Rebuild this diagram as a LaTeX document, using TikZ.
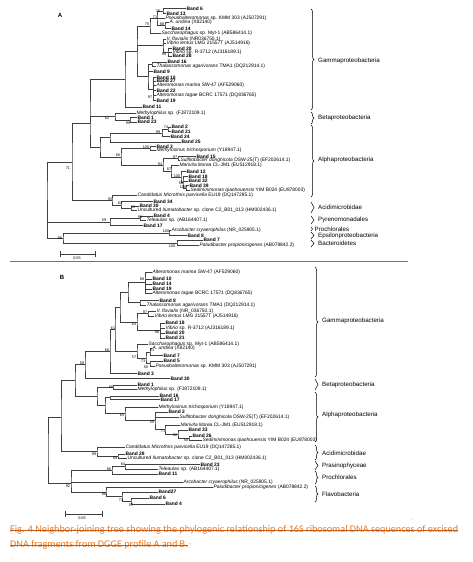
\documentclass[tikz,border=0pt]{standalone}
\usepackage{fontspec}
\setmainfont{Liberation Sans}
\newfontfamily\capfont{Carlito}
\usetikzlibrary{decorations.pathreplacing}
\definecolor{capcolor}{RGB}{232,122,36}
\definecolor{rulecolor}{RGB}{196,92,22}

\begin{document}
\begin{tikzpicture}[x=1pt,y=-1pt,
				branch/.style={draw=black!75, line width=0.45pt},
				leafnode/.style={anchor=west, inner sep=0.4pt, font=\fontsize{4.9}{5}\selectfont},
				bandnode/.style={leafnode, font=\fontsize{4.9}{5}\selectfont\bfseries},
				bootnode/.style={inner sep=0pt, font=\fontsize{3.8}{4}\selectfont},
				cladebrace/.style={decorate, decoration={brace, amplitude=3pt}, line width=0.5pt},
				cladenode/.style={anchor=west, inner sep=0pt, font=\fontsize{6.2}{7}\selectfont},
				panelnode/.style={inner sep=0pt, font=\fontsize{6}{7}\selectfont\bfseries},
				capnode/.style={anchor=west, inner sep=0pt, text=capcolor, font=\capfont\fontsize{10.2}{11}\selectfont},
				strike/.style={draw=rulecolor, line width=0.6pt},
				]
		\useasboundingbox (0,0) rectangle (472,562);

				%Panel A: leaves
				\node[panelnode]	(pA)	at (60,15)		{A};
				\node[bandnode]	(a6)	at (186,8.5)	{Band 6};
				\node[bandnode]	(a13)	at (166,13.5)	{Band 13};
				\node[leafnode]	(aPs)	at (165,18)		{\textit{Pseudoalteromonas} sp. KMM 303 (AJ507291)};
				\node[leafnode]	(aUn)	at (169,22)		{\textit{A. undina} (X82140)};
				\node[bandnode]	(a14)	at (171,28.5)	{Band 14};
				\node[leafnode]	(aSa)	at (161,33.5)	{\textit{Saccharophagus} sp. Myt-1 (AB586414.1)};
				\node[leafnode]	(aVf)	at (166,39)		{\textit{V. fluvialis} (NR036750.1)};
				\node[leafnode]	(aVl)	at (166,43)		{\textit{Vibrio lentus} LMG 21557T (AJ514916)};
				\node[bandnode]	(a20)	at (172,48.5)	{Band 20};
				\node[leafnode]	(aVs)	at (172,52.5)	{\textit{Vibrio} sp. R-3712 (AJ316189.1)};
				\node[bandnode]	(a28)	at (172,56)		{Band 28};
				\node[bandnode]	(a16)	at (167,62)		{Band 16};
				\node[leafnode]	(aTh)	at (156,66)		{\textit{Thalassomonas agarivorans} TMA1 (DQ212914.1)};
				\node[bandnode]	(a9)	at (153,71.5)	{Band 9};
				\node[bandnode]	(a10)	at (156,77.5)	{Band 10};
				\node[bandnode]	(a27)	at (156,81)		{Band 27};
				\node[leafnode]	(aAm)	at (156,85)		{\textit{Alteromonas marina} SW-47 (AF529060)};
				\node[bandnode]	(a22)	at (156,90.5)	{Band 22};
				\node[leafnode]	(aAt)	at (156,95)		{\textit{Alteromonas tagae} BCRC 17571 (DQ836765)};
				\node[bandnode]	(a19)	at (156,100.5)	{Band 19};
				\node[bandnode]	(a11)	at (142,107)	{Band 11};
				\node[leafnode]	(aMe)	at (136,113)	{\textit{Methylophilus} sp. (FJ872109.1)};
				\node[bandnode]	(a1)	at (137,117.5)	{Band 1};
				\node[bandnode]	(a23)	at (137,122)	{Band 23};
				\node[bandnode]	(a2)	at (171,127)	{Band 2};
				\node[bandnode]	(a21)	at (171,131.5)	{Band 21};
				\node[bandnode]	(a24)	at (170,136.5)	{Band 24};
				\node[bandnode]	(a25)	at (181,142)	{Band 25};
				\node[bandnode]	(a3)	at (156,146.5)	{Band 3};
				\node[leafnode]	(aMs)	at (156,150.5)	{\textit{Methylosinus trichosporium} (Y18947.1)};
				\node[bandnode]	(a15)	at (196,156.5)	{Band 15};
				\node[leafnode]	(aSu)	at (180,160.5)	{\textit{Sulfitobacter donghicola} DSW-25(T) (EF202614.1)};
				\node[leafnode]	(aMa)	at (179,165.5)	{\textit{Marivita litorea} CL-JM1 (EU512918.1)};
				\node[bandnode]	(a12)	at (186,171.5)	{Band 12};
				\node[bandnode]	(a18)	at (188,176.5)	{Band 18};
				\node[bandnode]	(a32)	at (188,181)	{Band 32};
				\node[bandnode]	(a39)	at (189,185.5)	{Band 39};
				\node[leafnode]	(aSe)	at (190,190)	{\textit{Sediminimonas qiaohouensis} YIM B024 (EU878003)};
				\node[leafnode]	(aCa)	at (137,195)	{\textit{Candidatus Microthrix parvicella} EU19 (DQ147285.1)};
				\node[bandnode]	(a34)	at (153,201.5)	{Band 34};
				\node[bandnode]	(a30)	at (139,206)	{Band 30};
				\node[leafnode]	(aUc)	at (137,210.5)	{Uncultured \textit{Ilumatobacter} sp. clone C2\_B01\_013 (HM002436.1)};
				\node[bandnode]	(a4)	at (153,216)	{Band 4};
				\node[leafnode]	(aTe)	at (146,220.5)	{\textit{Teleaulax} sp. (AB164407.1)};
				\node[bandnode]	(a17)	at (143,225.5)	{Band 17};
				\node[leafnode]	(aAr)	at (171,230)	{\textit{Arcobacter cryaerophilus} (NR\_025905.1)};
				\node[bandnode]	(a8)	at (187,235.5)	{Band 8};
				\node[bandnode]	(a7)	at (203,240)	{Band 7};
				\node[leafnode]	(aPa)	at (199,245)	{\textit{Paludibacter propionicigenes} (AB078842.2)};

				%Panel A: inner nodes
				\coordinate (n76) at (163,11);
				\coordinate (n88) at (165,25);
				\coordinate (n71) at (157,18);
				\coordinate (n75) at (150,26);
				\coordinate (n90) at (168,52.5);
				\coordinate (nV) at (163,45);
				\coordinate (nTh) at (152,64);
				\coordinate (n97) at (153,89);
				\coordinate (nAlt) at (148,76);
				\coordinate (Gup) at (137,51);
				\coordinate (G0) at (125,79);
				\coordinate (n99b) at (130,120);
				\coordinate (n62) at (115,116);
				\coordinate (n74) at (168,129);
				\coordinate (n99a) at (162,133);
				\coordinate (nB2) at (110,137);
				\coordinate (n100) at (150,148.5);
				\coordinate (n97a) at (178,158.5);
				\coordinate (n100d) at (186,188);
				\coordinate (n58) at (183,182);
				\coordinate (n100c) at (181,177);
				\coordinate (n87) at (171,171);
				\coordinate (n94) at (163,165);
				\coordinate (n66) at (121,157);
				\coordinate (nAl) at (100,147);
				\coordinate (nGB) at (90,123);
				\coordinate (n59a) at (131,208);
				\coordinate (n62a) at (121,205);
				\coordinate (nAc) at (112,200);
				\coordinate (n71r) at (72,162);
				\coordinate (n99p) at (140,218);
				\coordinate (n59p) at (110,222);
				\coordinate (n100a) at (169,233);
				\coordinate (n100b) at (177,243);
				\coordinate (n96) at (63,238);
				\coordinate (rootA) at (47,200);

				%Panel A: branches
				\draw[branch] (a6.west) -| (n76) |- (a13.west);
				\draw[branch] (aUn.west) -| (n88) |- (a14.west);
				\draw[branch] (n76) -| (n71) |- (n88) (n71) |- (aPs.west);
				\draw[branch] (n71) -| (n75) |- (aSa.west);
				\draw[branch] (a20.west) -| (n90) |- (a28.west) (n90) |- (aVs.west);
				\draw[branch] (aVf.west) -| (nV) |- (n90) (nV) |- (aVl.west);
				\draw[branch] (a16.west) -| (nTh) |- (aTh.west);
				\draw[branch] (a10.west) -| (n97) |- (a19.west) (n97) |- (a27.west) (n97) |- (aAm.west) (n97) |- (a22.west) (n97) |- (aAt.west);
				\draw[branch] (nTh) -| (nAlt) |- (n97) (nAlt) |- (a9.west);
				\draw[branch] (n75) -| (Gup) |- (nAlt) (Gup) |- (nV);
				\draw[branch] (Gup) -| (G0) |- (a11.west);
				\draw[branch] (a1.west) -| (n99b) |- (a23.west);
				\draw[branch] (aMe.west) -| (n62) |- (n99b);
				\draw[branch] (a2.west) -| (n74) |- (a21.west);
				\draw[branch] (n74) -| (n99a) |- (a24.west);
				\draw[branch] (n99a) -| (nB2) |- (a25.west);
				\draw[branch] (a3.west) -| (n100) |- (aMs.west);
				\draw[branch] (a15.west) -| (n97a) |- (aSu.west);
				\draw[branch] (a39.west) -| (n100d) |- (aSe.west);
				\draw[branch] (a18.west) -| (n58) |- (n100d) (n58) |- (a32.west);
				\draw[branch] (a12.west) -| (n100c) |- (n58);
				\draw[branch] (aMa.west) -| (n87) |- (n100c);
				\draw[branch] (n97a) -| (n94) |- (n87);
				\draw[branch] (n100) -| (n66) |- (n94);
				\draw[branch] (nB2) -| (nAl) |- (n66);
				\draw[branch] (G0) -| (nGB) |- (nAl) (nGB) |- (n62);
				\draw[branch] (a30.west) -| (n59a) |- (aUc.west);
				\draw[branch] (a34.west) -| (n62a) |- (n59a);
				\draw[branch] (aCa.west) -| (nAc) |- (n62a);
				\draw[branch] (nGB) -| (n71r) |- (nAc);
				\draw[branch] (a4.west) -| (n99p) |- (aTe.west);
				\draw[branch] (n99p) -| (n59p) |- (a17.west);
				\draw[branch] (aAr.west) -| (n100a) |- (a8.west);
				\draw[branch] (a7.west) -| (n100b) |- (aPa.west);
				\draw[branch] (n100a) -| (n96) |- (n100b);
				\draw[branch] (n71r) -| (rootA) |- (n96) (rootA) |- (n59p);

				%Panel A: bootstrap values
				\node[bootnode] (bA1) at (158,11.5) {76};
				\node[bootnode] (bA2) at (155,17) {71};
				\node[bootnode] (bA3) at (162,24) {88};
				\node[bootnode] (bA4) at (147,24) {75};
				\node[bootnode] (bA5) at (164,54) {90};
				\node[bootnode] (bA6) at (150,97) {97};
				\node[bootnode] (bA7) at (107,118) {62};
				\node[bootnode] (bA8) at (128,123) {99};
				\node[bootnode] (bA9) at (166,127) {74};
				\node[bootnode] (bA10) at (158,132) {99};
				\node[bootnode] (bA11) at (146,147) {100};
				\node[bootnode] (bA12) at (118,155) {66};
				\node[bootnode] (bA13) at (175,157) {97};
				\node[bootnode] (bA14) at (160,164) {94};
				\node[bootnode] (bA15) at (169,169) {87};
				\node[bootnode] (bA16) at (177,176) {100};
				\node[bootnode] (bA17) at (181,183) {58};
				\node[bootnode] (bA18) at (183,187) {100};
				\node[bootnode] (bA19) at (110,199) {92};
				\node[bootnode] (bA20) at (120,203) {62};
				\node[bootnode] (bA21) at (133,207) {59};
				\node[bootnode] (bA22) at (68,168) {71};
				\node[bootnode] (bA23) at (104,220) {59};
				\node[bootnode] (bA24) at (140,217) {99};
				\node[bootnode] (bA25) at (166,231) {100};
				\node[bootnode] (bA26) at (60,238) {96};
				\node[bootnode] (bA27) at (172,246) {100};

				%Panel A: scale and groups
				\coordinate (sA1) at (60,254);
				\coordinate (sA2) at (95,254);
				\draw[branch, |-|] (sA1) -- (sA2);
				\node[bootnode] (sAl) at (77,258.5) {0.05};
				\draw[cladebrace] (311,9) -- (311,110);
				\node[cladenode] (gA1) at (318,61) {Gammaproteobacteria};
				\draw[cladebrace] (311,112) -- (311,124);
				\node[cladenode] (gA2) at (318,118) {Betaproteobacteria};
				\draw[cladebrace] (311,125) -- (311,197);
				\node[cladenode] (gA3) at (318,160) {Alphaproteobacteria};
				\draw[cladebrace] (311,202) -- (311,213);
				\node[cladenode] (gA4) at (318,207) {Acidimicrobidae};
				\draw[cladebrace] (311,216) -- (311,224);
				\node[cladenode] (gA5) at (318,220) {Pyrenomonadales};
				\draw[cladebrace, decoration={brace, amplitude=1.5pt}] (311,227) -- (311,231);
				\node[cladenode] (gA6) at (314.5,229) {Prochlorales};
				\draw[cladebrace] (311,232) -- (311,239);
				\node[cladenode] (gA7) at (318,236) {Epsilonproteobacteria};
				\draw[cladebrace] (311,240) -- (311,247);
				\node[cladenode] (gA8) at (318,243.5) {Bacteroidetes};

				\draw[rulecolor, line width=0.8pt] (10,261) -- (408,261);

				%Panel B: leaves
				\node[panelnode]	(pB)	at (62,277)		{B};
				\node[leafnode]	(bAm)	at (152,272)	{\textit{Alteromonas marina} SW-47 (AF529060)};
				\node[bandnode]	(b10)	at (152,279)	{Band 10};
				\node[bandnode]	(b14)	at (152,284)	{Band 14};
				\node[bandnode]	(b19)	at (152,289)	{Band 19};
				\node[leafnode]	(bAt)	at (152,293.5)	{\textit{Alteromonas tagae} BCRC 17571 (DQ836765)};
				\node[bandnode]	(b8)	at (159,300.5)	{Band 8};
				\node[leafnode]	(bTh)	at (146,305)	{\textit{Thalassomonas agarivorans} TMA1 (DQ212914.1)};
				\node[leafnode]	(bVf)	at (156,311)	{\textit{V. fluvialis} (NR\_036750.1)};
				\node[leafnode]	(bVl)	at (154,316)	{\textit{Vibrio lentus} LMG 21557T (AJ514916)};
				\node[bandnode]	(b18)	at (165,323)	{Band 18};
				\node[leafnode]	(bVs)	at (165,328)	{\textit{Vibrio} sp. R-3712 (AJ316189.1)};
				\node[bandnode]	(b20)	at (165,333)	{Band 20};
				\node[bandnode]	(b21)	at (165,338)	{Band 21};
				\node[leafnode]	(bSa)	at (148,344)	{\textit{Saccharophagus} sp. Myt-1 (AB586414.1)};
				\node[leafnode]	(bUn)	at (152,348.5)	{\textit{A. undina} (X82140)};
				\node[bandnode]	(b7)	at (163,355.5)	{Band 7};
				\node[bandnode]	(b5)	at (163,361)	{Band 5};
				\node[leafnode]	(bPs)	at (155,366.5)	{\textit{Pseudoalteromonas} sp. KMM 303 (AJ507291)};
				\node[bandnode]	(b3)	at (137,373.5)	{Band 3};
				\node[bandnode]	(b30)	at (170,378.5)	{Band 30};
				\node[bandnode]	(b1)	at (137,385)	{Band 1};
				\node[leafnode]	(bMe)	at (137,389)	{\textit{Methylophilus} sp. (FJ872109.1)};
				\node[bandnode]	(b16)	at (159,396)	{Band 16};
				\node[bandnode]	(b17)	at (160,399.5)	{Band 17};
				\node[leafnode]	(bMs)	at (158,407)	{\textit{Methylosinus trichosporium} (Y18947.1)};
				\node[bandnode]	(b2)	at (168,412)	{Band 2};
				\node[leafnode]	(bSu)	at (179,417)	{\textit{Sulfitobacter donghicola} DSW-25(T) (EF202614.1)};
				\node[leafnode]	(bMa)	at (180,425)	{\textit{Marivita litorea} CL-JM1 (EU512918.1)};
				\node[bandnode]	(b33)	at (188,430)	{Band 33};
				\node[bandnode]	(b26)	at (192,436)	{Band 26};
				\node[leafnode]	(bSe)	at (202,440)	{\textit{Sediminimonas qiaohouensis} YIM B024 (EU878003)};
				\node[leafnode]	(bCa)	at (125,447)	{\textit{Candidatus Microthrix parvicella} EU19 (DQ147285.1)};
				\node[bandnode]	(b28)	at (125,454)	{Band 28};
				\node[leafnode]	(bUc)	at (127,458)	{Uncultured \textit{Ilumatobacter} sp. clone C2\_B01\_013 (HM002436.1)};
				\node[bandnode]	(b23)	at (200,464.5)	{Band 23};
				\node[leafnode]	(bTe)	at (158,469)	{\textit{Teleaulax} sp. (AB164407.1)};
				\node[bandnode]	(b11)	at (158,474)	{Band 11};
				\node[leafnode]	(bAr)	at (183,482)	{\textit{Arcobacter cryaerophilus} (NR\_025905.1)};
				\node[leafnode]	(bPa)	at (213,487)	{\textit{Paludibacter propionicigenes} (AB078842.2)};
				\node[bandnode]	(b27)	at (158,492)	{Band27};
				\node[bandnode]	(b6)	at (149,498)	{Band 6};
				\node[bandnode]	(b4)	at (165,504)	{Band 4};

				%Panel B: inner nodes
				\coordinate (n88B) at (145,282);
				\coordinate (nThB) at (140,302.5);
				\coordinate (nAltB) at (128,292);
				\coordinate (n97B) at (148,313.5);
				\coordinate (n96B) at (160,330.5);
				\coordinate (n63) at (137,322);
				\coordinate (nGam1) at (120,307);
				\coordinate (n51) at (150,352);
				\coordinate (n50) at (150,363.5);
				\coordinate (n73) at (146,358);
				\coordinate (n57) at (137,351);
				\coordinate (n61) at (115,329);
				\coordinate (n66g) at (110,351);
				\coordinate (n58B) at (85,364.5);
				\coordinate (n66b) at (113,387);
				\coordinate (n1617) at (110,397.5);
				\coordinate (n58a) at (189,438);
				\coordinate (n82) at (178,434);
				\coordinate (n71b) at (165,429.5);
				\coordinate (n55) at (155,420);
				\coordinate (n65) at (125,413.5);
				\coordinate (nAlB) at (105,405.5);
				\coordinate (nBA) at (97,396);
				\coordinate (nGBb) at (75,380);
				\coordinate (n99B) at (118,456);
				\coordinate (nAcB) at (97,451.5);
				\coordinate (nX) at (61,417.5);
				\coordinate (n64) at (125,466.5);
				\coordinate (n86) at (112,470);
				\coordinate (n57l) at (131,501);
				\coordinate (n73l) at (122,496.5);
				\coordinate (n88l) at (106,492);
				\coordinate (n92) at (71,483);
				\coordinate (rootB) at (48,450);

				%Panel B: branches
				\draw[branch] (bAm.west) -| (n88B) |- (bAt.west) (n88B) |- (b10.west) (n88B) |- (b14.west) (n88B) |- (b19.west);
				\draw[branch] (b8.west) -| (nThB) |- (bTh.west);
				\draw[branch] (n88B) -| (nAltB) |- (nThB);
				\draw[branch] (bVf.west) -| (n97B) |- (bVl.west);
				\draw[branch] (b18.west) -| (n96B) |- (b21.west) (n96B) |- (bVs.west) (n96B) |- (b20.west);
				\draw[branch] (n97B) -| (n63) |- (n96B);
				\draw[branch] (nAltB) -| (nGam1) |- (n63);
				\draw[branch] (bUn.west) -| (n51) |- (b7.west);
				\draw[branch] (b5.west) -| (n50) |- (bPs.west);
				\draw[branch] (n51) -| (n73) |- (n50);
				\draw[branch] (bSa.west) -| (n57) |- (n73);
				\draw[branch] (nGam1) -| (n61) |- (n57);
				\draw[branch] (n61) -| (n66g) |- (b3.west);
				\draw[branch] (n66g) -| (n58B) |- (b30.west);
				\draw[branch] (b1.west) -| (n66b) |- (bMe.west);
				\draw[branch] (b16.west) -| (n1617) |- (b17.west);
				\draw[branch] (b26.west) -| (n58a) |- (bSe.west);
				\draw[branch] (b33.west) -| (n82) |- (n58a);
				\draw[branch] (bMa.west) -| (n71b) |- (n82);
				\draw[branch] (b2.west) -| (n55) |- (n71b) (n55) |- (bSu.west);
				\draw[branch] (bMs.west) -| (n65) |- (n55);
				\draw[branch] (n1617) -| (nAlB) |- (n65);
				\draw[branch] (n66b) -| (nBA) |- (nAlB);
				\draw[branch] (n58B) -| (nGBb) |- (nBA);
				\draw[branch] (b28.west) -| (n99B) |- (bUc.west);
				\draw[branch] (bCa.west) -| (nAcB) |- (n99B);
				\draw[branch] (nGBb) -| (nX) |- (nAcB);
				\draw[branch] (b23.west) -| (n64) |- (bTe.west);
				\draw[branch] (n64) -| (n86) |- (b11.west);
				\draw[branch] (b6.west) -| (n57l) |- (b4.west);
				\draw[branch] (b27.west) -| (n73l) |- (n57l);
				\draw[branch] (bPa.west) -| (n88l) |- (n73l);
				\draw[branch] (n86) -| (n92) |- (n88l) (n92) |- (bAr.west);
				\draw[branch] (nX) -| (rootB) |- (n92);

				%Panel B: bootstrap values
				\node[bootnode] (bB1) at (142,279) {88};
				\node[bootnode] (bB2) at (145,312) {97};
				\node[bootnode] (bB3) at (134,324) {63};
				\node[bootnode] (bB4) at (157,332) {96};
				\node[bootnode] (bB5) at (113,328) {61};
				\node[bootnode] (bB6) at (152,350) {51};
				\node[bootnode] (bB7) at (134,357) {57};
				\node[bootnode] (bB8) at (143,361) {73};
				\node[bootnode] (bB9) at (146,367) {50};
				\node[bootnode] (bB10) at (107,350) {66};
				\node[bootnode] (bB11) at (82,363) {58};
				\node[bootnode] (bB12) at (111,387) {66};
				\node[bootnode] (bB13) at (122,415) {65};
				\node[bootnode] (bB14) at (152,422) {55};
				\node[bootnode] (bB15) at (163,431) {71};
				\node[bootnode] (bB16) at (175,435) {82};
				\node[bootnode] (bB17) at (186,440) {58};
				\node[bootnode] (bB18) at (94,454) {99};
				\node[bootnode] (bB19) at (115,458) {99};
				\node[bootnode] (bB20) at (123,464) {64};
				\node[bootnode] (bB21) at (109,469) {86};
				\node[bootnode] (bB22) at (68,486) {92};
				\node[bootnode] (bB23) at (104,494) {88};
				\node[bootnode] (bB24) at (121,500) {73};
				\node[bootnode] (bB25) at (131,505) {57};

				%Panel B: scale and groups
				\coordinate (sB1) at (65,514);
				\coordinate (sB2) at (102,514);
				\draw[branch, |-|] (sB1) -- (sB2);
				\node[bootnode] (sBl) at (82,518.5) {0.05};
				\draw[cladebrace] (315,267) -- (315,377);
				\node[cladenode] (gB1) at (322,321) {Gammaproteobacteria};
				\draw[cladebrace] (315,379) -- (315,390);
				\node[cladenode] (gB2) at (322,385) {Betaproteobacteria};
				\draw[cladebrace] (315,392) -- (315,442);
				\node[cladenode] (gB3) at (322,415) {Alphaproteobacteria};
				\draw[cladebrace] (315,445) -- (315,460);
				\node[cladenode] (gB4) at (322,453) {Acidimicrobidae};
				\draw[cladebrace] (315,461) -- (315,470);
				\node[cladenode] (gB5) at (322,465.5) {Prasinophyceae};
				\draw[cladebrace] (315,471) -- (315,484);
				\node[cladenode] (gB6) at (322,477.5) {Prochlorales};
				\draw[cladebrace] (315,486) -- (315,502);
				\node[cladenode] (gB7) at (322,494) {Flavobacteria};

				%Caption
				\node[bootnode] (dot1) at (412,520) {.};
				\node[capnode] (cap1) at (10,530) {\makebox[448pt][s]{Fig. 4 Neighbor-joining tree showing the phylogenic relationship of 16S ribosomal DNA sequences of excised}};
				\node[capnode] (cap2) at (10,545) {DNA fragments from DGGE profile A and B.};
				\node[bootnode, anchor=west] (dot3) at (cap2.east) {\,.,};
				\draw[strike] ([yshift=2.6pt]cap1.base west) -- ([yshift=2.6pt]cap1.base east);
				\draw[strike] ([yshift=2.6pt]cap2.base west) -- ([yshift=2.6pt]cap2.base east);
				\node[bootnode] (dot2) at (13,559) {.};
			\end{tikzpicture}
\end{document}
